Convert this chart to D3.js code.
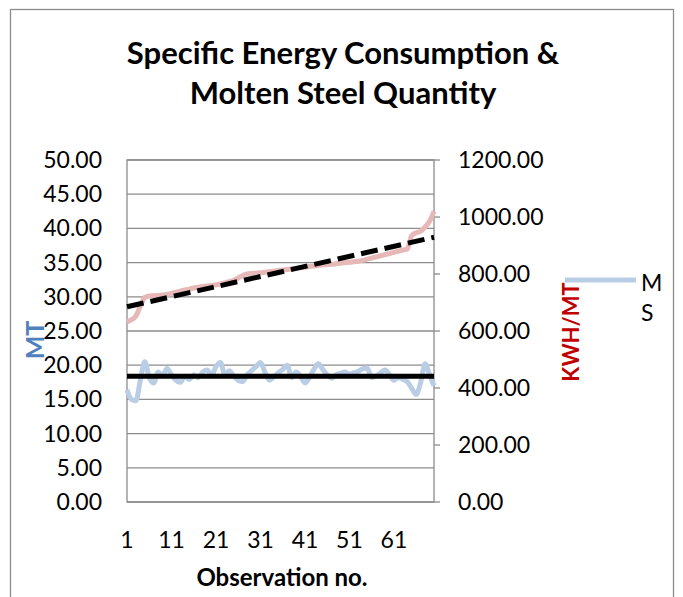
<!DOCTYPE html>
<meta charset="utf-8" />
<script src="https://d3js.org/d3.v7.min.js"></script>
<style>
  body { margin: 0; background: #fff; }
  text { font-family: Lato, "Open Sans", sans-serif; }
</style>
<div id="chart"></div>
<script>
  // MS (molten steel, MT) per observation - left axis
  const ms = [
    16.4, 15.0, 14.8, 17.8, 20.5, 18.2, 17.4, 19.0, 18.5, 19.5,
    18.6, 17.8, 17.5, 18.4, 17.9, 18.6, 18.2, 19.0, 19.3, 18.5,
    19.8, 20.4, 18.6, 19.2, 18.4, 17.8, 17.6, 18.6, 19.2, 19.8,
    20.4, 19.0, 17.8, 18.3, 18.9, 19.4, 20.0, 18.2, 19.0, 18.4,
    17.4, 18.2, 19.4, 20.2, 19.4, 18.6, 18.1, 18.6, 18.8, 19.0,
    18.7, 18.9, 19.1, 19.5, 19.6, 18.2, 18.4, 18.9, 19.3, 18.6,
    17.8, 18.2, 17.9, 17.6, 16.6, 15.7, 17.5, 20.2, 18.6, 17.0
  ];
  // specific energy consumption (KWH/MT) - right axis
  const sec = [
    632, 640, 652, 688, 718, 723, 724, 725, 726, 728,
    732, 736, 740, 744, 747, 751, 754, 756, 758, 760,
    762, 765, 769, 773, 778, 786, 795, 800, 802, 803,
    804, 806, 808, 810, 812, 814, 816, 818, 820, 822,
    824, 826, 828, 830, 832, 833, 834, 836, 838, 840,
    841, 843, 845, 848, 852, 856, 860, 864, 868, 872,
    876, 880, 884, 888, 935, 945, 950, 965, 985, 1020
  ];
  const obs = d3.range(1, ms.length + 1);
  const msAverage = 18.4; // flat black line
  const secTrend = [685, 929]; // dashed linear trend, first and last obs

  const xTicks = [1, 11, 21, 31, 41, 51, 61];
  const leftTicks = [0, 5, 10, 15, 20, 25, 30, 35, 40, 45, 50];
  const rightTicks = [0, 200, 400, 600, 800, 1000, 1200];

  const width = 683;
  const height = 597;
  const plot = { left: 127, right: 434, top: 160, bottom: 502 };

  const svg = d3
    .select("#chart")
    .append("svg")
    .attr("width", width)
    .attr("height", height);

  // outer chart border
  svg
    .append("rect")
    .attr("x", 10.5)
    .attr("y", 9.5)
    .attr("width", 663)
    .attr("height", 600)
    .attr("fill", "white")
    .attr("stroke", "#8c8c8c")
    .attr("stroke-width", 1.3);

  const x = d3.scaleLinear().domain([1, obs.length]).range([plot.left, plot.right]);
  const yL = d3.scaleLinear().domain([0, 50]).range([plot.bottom, plot.top]);
  const yR = d3.scaleLinear().domain([0, 1200]).range([plot.bottom, plot.top]);

  // gridlines
  svg
    .append("g")
    .selectAll("line")
    .data(leftTicks)
    .join("line")
    .attr("x1", plot.left)
    .attr("x2", plot.right)
    .attr("y1", (d) => yL(d))
    .attr("y2", (d) => yL(d))
    .attr("stroke", "#8c8c8c")
    .attr("stroke-width", 1.3);

  // plot area sides
  svg
    .append("rect")
    .attr("x", plot.left)
    .attr("y", plot.top)
    .attr("width", plot.right - plot.left)
    .attr("height", plot.bottom - plot.top)
    .attr("fill", "none")
    .attr("stroke", "#8c8c8c")
    .attr("stroke-width", 1.3);

  // left axis labels
  svg
    .append("g")
    .selectAll("text")
    .data(leftTicks)
    .join("text")
    .attr("x", 102)
    .attr("y", (d) => yL(d))
    .attr("dy", "0.35em")
    .attr("text-anchor", "end")
    .style("font-size", "23px")
    .text((d) => d.toFixed(2));

  // right axis: tick marks + labels
  const rAxis = svg.append("g");
  rAxis
    .selectAll("line")
    .data(rightTicks)
    .join("line")
    .attr("x1", plot.right)
    .attr("x2", plot.right + 6)
    .attr("y1", (d) => yR(d))
    .attr("y2", (d) => yR(d))
    .attr("stroke", "#8c8c8c")
    .attr("stroke-width", 1.3);
  rAxis
    .selectAll("text")
    .data(rightTicks)
    .join("text")
    .attr("x", 458)
    .attr("y", (d) => yR(d))
    .attr("dy", "0.35em")
    .style("font-size", "23px")
    .text((d) => d.toFixed(2));

  // x axis labels
  svg
    .append("g")
    .selectAll("text")
    .data(xTicks)
    .join("text")
    .attr("x", (d) => x(d))
    .attr("y", 540)
    .attr("dy", "0.35em")
    .attr("text-anchor", "middle")
    .style("font-size", "23px")
    .text((d) => d);

  // series
  const line = (yScale, vals) =>
    d3
      .line()
      .x((d, i) => x(obs[i]))
      .y((d) => yScale(d))
      .curve(d3.curveMonotoneX)(vals);

  svg
    .append("path")
    .attr("d", line(yR, sec))
    .attr("fill", "none")
    .attr("stroke", "#e6b9b8")
    .attr("stroke-width", 5)
    .attr("stroke-linejoin", "round");

  svg
    .append("path")
    .attr("d", line(yL, ms))
    .attr("fill", "none")
    .attr("stroke", "#b9cde5")
    .attr("stroke-width", 5)
    .attr("stroke-linejoin", "round");

  // average of MS
  svg
    .append("line")
    .attr("x1", x(1))
    .attr("x2", x(obs.length))
    .attr("y1", yL(msAverage))
    .attr("y2", yL(msAverage))
    .attr("stroke", "black")
    .attr("stroke-width", 5);

  // linear trend of SEC
  svg
    .append("line")
    .attr("x1", x(1))
    .attr("x2", x(obs.length))
    .attr("y1", yR(secTrend[0]))
    .attr("y2", yR(secTrend[1]))
    .attr("stroke", "black")
    .attr("stroke-width", 5)
    .attr("stroke-dasharray", "17,7");

  // title
  const title = svg
    .append("text")
    .attr("x", 343)
    .attr("text-anchor", "middle")
    .style("font-size", "31px")
    .style("font-weight", "bold");
  title.append("tspan").attr("x", 343).attr("y", 64).text("Specific Energy Consumption &");
  title.append("tspan").attr("x", 343).attr("y", 104).text("Molten Steel Quantity");

  // axis titles
  svg
    .append("text")
    .attr("x", 282)
    .attr("y", 578)
    .attr("dy", "0.35em")
    .attr("text-anchor", "middle")
    .style("font-size", "24px")
    .style("font-weight", "bold")
    .text("Observation no.");

  svg
    .append("text")
    .attr("transform", "translate(35,340) rotate(-90)")
    .attr("dy", "0.35em")
    .attr("text-anchor", "middle")
    .style("font-size", "25px")
    .style("font-weight", "bold")
    .style("fill", "#4f81bd")
    .text("MT");

  svg
    .append("text")
    .attr("transform", "translate(571,332) rotate(-90)")
    .attr("dy", "0.35em")
    .attr("text-anchor", "middle")
    .style("font-size", "22px")
    .style("font-weight", "bold")
    .style("fill", "#c00000")
    .text("KWH/MT");

  // legend
  svg
    .append("line")
    .attr("x1", 565)
    .attr("x2", 636)
    .attr("y1", 280)
    .attr("y2", 280)
    .attr("stroke", "#b9cde5")
    .attr("stroke-width", 5);
  svg
    .append("text")
    .attr("x", 641)
    .attr("y", 283)
    .attr("dy", "0.35em")
    .style("font-size", "23px")
    .text("M");
  svg
    .append("text")
    .attr("x", 641)
    .attr("y", 313)
    .attr("dy", "0.35em")
    .style("font-size", "23px")
    .text("S");
</script>
